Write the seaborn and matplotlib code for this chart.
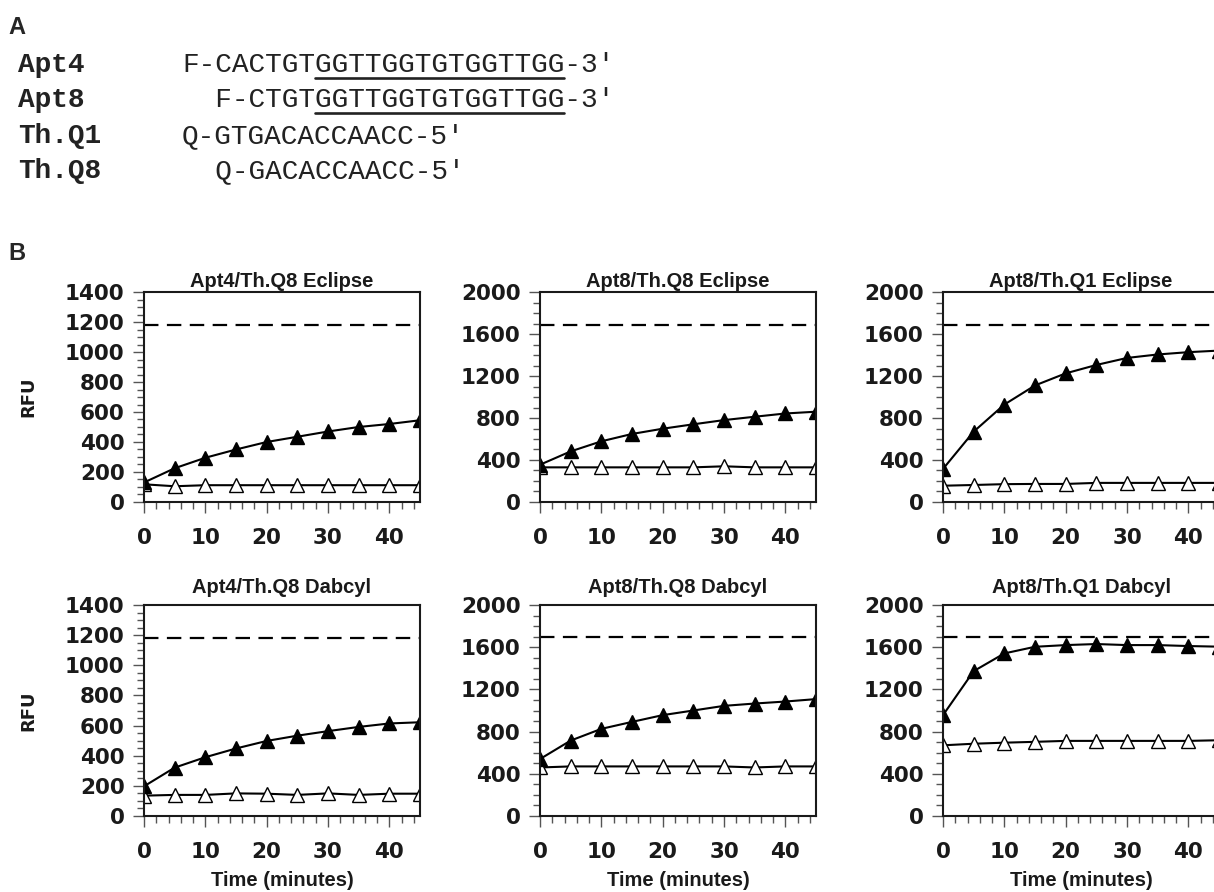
import matplotlib
matplotlib.use("Agg")
import matplotlib.pyplot as plt
import seaborn as sns
import numpy as np
from matplotlib.ticker import MultipleLocator
from matplotlib.lines import Line2D

sns.set_style("ticks")
plt.rcParams["font.family"] = ["DejaVu Sans"]
plt.rcParams["font.weight"] = "bold"

# time points (minutes)
time = [0, 5, 10, 15, 20, 25, 30, 35, 40, 45]

titles = ["Apt4/Th.Q8 Eclipse", "Apt8/Th.Q8 Eclipse", "Apt8/Th.Q1 Eclipse",
          "Apt4/Th.Q8 Dabcyl", "Apt8/Th.Q8 Dabcyl", "Apt8/Th.Q1 Dabcyl"]

# with thrombin (filled triangles)
apt4_q8_ecl_on = [130, 225, 295, 350, 400, 435, 470, 500, 520, 545]
apt8_q8_ecl_on = [355, 482, 578, 648, 698, 740, 780, 812, 843, 860]
apt8_q1_ecl_on = [315, 670, 928, 1110, 1225, 1305, 1372, 1405, 1427, 1442]
apt4_q8_dab_on = [197, 321, 390, 448, 498, 533, 563, 591, 614, 622]
apt8_q8_dab_on = [540, 715, 826, 892, 956, 1000, 1044, 1066, 1085, 1108]
apt8_q1_dab_on = [956, 1373, 1541, 1604, 1620, 1630, 1620, 1620, 1611, 1605]

# without thrombin (open triangles)
apt4_q8_ecl_off = [118, 105, 112, 112, 112, 112, 112, 112, 112, 112]
apt8_q8_ecl_off = [330, 330, 330, 330, 330, 330, 340, 330, 330, 330]
apt8_q1_ecl_off = [155, 162, 170, 172, 172, 182, 182, 182, 182, 182]
apt4_q8_dab_off = [135, 140, 140, 150, 148, 140, 150, 140, 148, 148]
apt8_q8_dab_off = [460, 470, 470, 470, 470, 470, 470, 460, 470, 470]
apt8_q1_dab_off = [670, 685, 695, 703, 712, 712, 712, 712, 712, 718]

# unquenched aptamer level (dashed line)
max_signal = [1180, 1690, 1690, 1180, 1693, 1693]
y_top = [1400, 2000, 2000, 1400, 2000, 2000]
y_step = [200, 400, 400, 200, 400, 400]
y_minor = [50, 100, 100, 50, 100, 100]

on_series = [apt4_q8_ecl_on, apt8_q8_ecl_on, apt8_q1_ecl_on,
             apt4_q8_dab_on, apt8_q8_dab_on, apt8_q1_dab_on]
off_series = [apt4_q8_ecl_off, apt8_q8_ecl_off, apt8_q1_ecl_off,
              apt4_q8_dab_off, apt8_q8_dab_off, apt8_q1_dab_off]

# panel A sequences
seq_names = ["Apt4", "Apt8", "Th.Q1", "Th.Q8"]
seq_text = ["F-CACTGTGGTTGGTGTGGTTGG-3'", "  F-CTGTGGTTGGTGTGGTTGG-3'",
            "Q-GTGACACCAACC-5'", "  Q-GACACCAACC-5'"]
underline_cols = (8, 23)  # aptamer core, same columns in both Apt rows

W, H = 1214, 892
fig = plt.figure(figsize=(W / 100, H / 100), dpi=100)

def fx(px):
    return px / W

def fy(py):
    return 1 - py / H

# ---- panel A
fig.text(fx(8), fy(27), "A", fontsize=17, family="Liberation Sans",
         weight="bold", va="center", ha="left")
baselines = [72, 107, 143, 178]
seq_objs = []
for name, seq, yb in zip(seq_names, seq_text, baselines):
    fig.text(fx(18), fy(yb), name, fontsize=20, family="Liberation Mono",
             weight="bold", va="baseline", ha="left", color="#222222")
    t = fig.text(fx(182), fy(yb), seq, fontsize=20, family="Liberation Mono",
                 weight="normal", va="baseline", ha="left", color="#222222")
    seq_objs.append(t)

renderer = fig.canvas.get_renderer()
for t, yb in zip(seq_objs[:2], baselines[:2]):
    bb = t.get_window_extent(renderer)
    cw = bb.width / len(t.get_text())
    x0 = bb.x0 + underline_cols[0] * cw
    x1 = bb.x0 + underline_cols[1] * cw
    fig.add_artist(Line2D([x0 / W, x1 / W], [fy(yb + 6), fy(yb + 6)],
                          transform=fig.transFigure, color="#222222", lw=1.9))

# ---- panel B
fig.text(fx(8), fy(254), "B", fontsize=17, family="Liberation Sans",
         weight="bold", va="center", ha="left")

lefts = [144, 540, 943]
width = 276
rows = [(292, 502), (605, 816)]

for i in range(6):
    r, c = divmod(i, 3)
    top, bot = rows[r]
    ax = fig.add_axes([fx(lefts[c]), fy(bot), width / W, (bot - top) / H])

    ax.axhline(max_signal[i], color="black", lw=1.6, ls=(0, (6.5, 3.8)))
    sns.lineplot(x=time, y=off_series[i], ax=ax, color="black", lw=1.5,
                 marker="^", markersize=10.5, markerfacecolor="white",
                 markeredgecolor="black", markeredgewidth=1.0)
    sns.lineplot(x=time, y=on_series[i], ax=ax, color="black", lw=1.5,
                 marker="^", markersize=10.5, markerfacecolor="black",
                 markeredgecolor="black", markeredgewidth=1.0)

    ax.set_xlim(0, 45)
    ax.set_ylim(0, y_top[i])
    ax.xaxis.set_major_locator(MultipleLocator(10))
    ax.xaxis.set_minor_locator(MultipleLocator(2))
    ax.yaxis.set_major_locator(MultipleLocator(y_step[i]))
    ax.yaxis.set_minor_locator(MultipleLocator(y_minor[i]))
    ax.tick_params(which="major", direction="out", length=8, width=1,
                   color="#555555", labelsize=15.5, labelcolor="#1a1a1a")
    ax.tick_params(which="minor", direction="out", length=5, width=1,
                   color="#555555")
    ax.tick_params(axis="x", which="major", pad=10.5)
    ax.tick_params(axis="y", which="major", pad=6)

    for s in ax.spines.values():
        s.set_linewidth(1.5)
        s.set_color("#1a1a1a")

    ax.set_title(titles[i], fontsize=14.5, family="Liberation Sans",
                 weight="bold", pad=3.6 if r == 0 else 8.6, color="#1a1a1a")
    ax.set_xlabel("")
    ax.set_ylabel("")
    if c == 0:
        ax.set_ylabel("RFU", fontsize=13, weight="bold", color="#1a1a1a")
        ax.yaxis.set_label_coords(-0.385, 0.5)
    if r == 1:
        ax.set_xlabel("Time (minutes)", fontsize=14.5, family="Liberation Sans",
                      weight="bold", color="#1a1a1a", labelpad=7)

fig.savefig("out.png", dpi=100)
